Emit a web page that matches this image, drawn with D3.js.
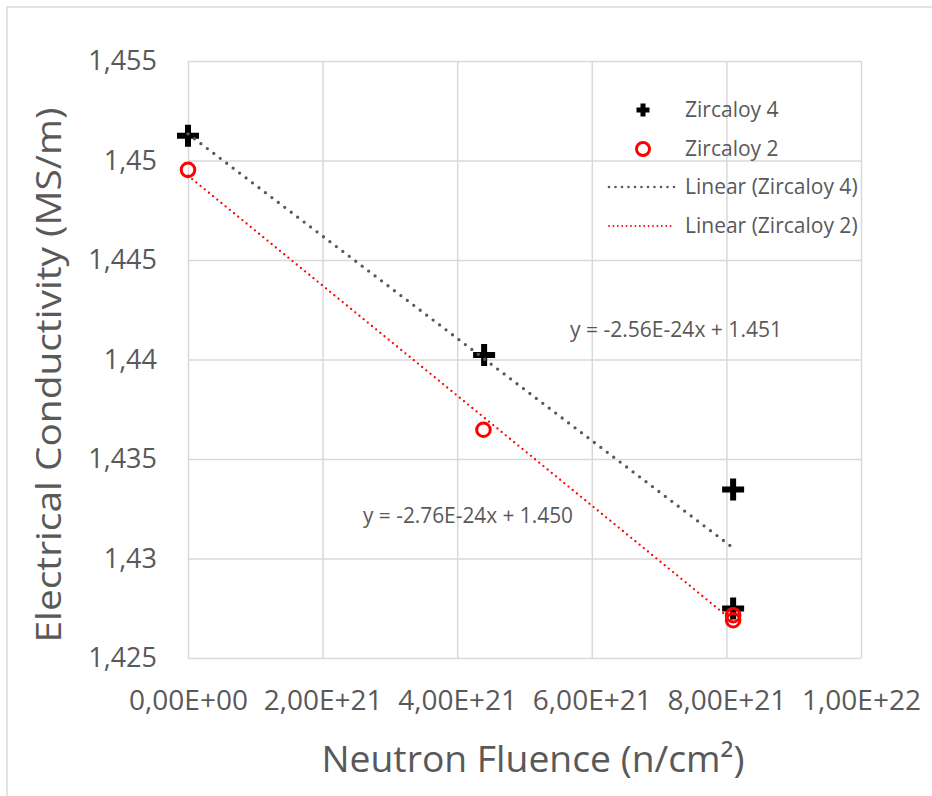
<!DOCTYPE html>
<html>
<head>
<meta charset="utf-8">
<script src="https://cdn.jsdelivr.net/npm/d3@7"></script>
<style>
  body { margin: 0; background: #fff; }
  text { font-family: "Open Sans", sans-serif; fill: #595959; }
</style>
</head>
<body>
<svg width="932" height="796"></svg>
<script>
// data
const zr4Fluence = [0, 4.40e21, 8.10e21, 8.10e21];
const zr4Cond = [1.45125, 1.44023, 1.43347, 1.42749];
const zr2Fluence = [0, 4.39e21, 8.10e21, 8.10e21];
const zr2Cond = [1.44953, 1.43647, 1.42715, 1.42690];

const xTicks = [0, 2e21, 4e21, 6e21, 8e21, 1e22];
const xTickLabels = ["0,00E+00", "2,00E+21", "4,00E+21", "6,00E+21", "8,00E+21", "1,00E+22"];
const yTicks = [1.425, 1.43, 1.435, 1.44, 1.445, 1.45, 1.455];
const yTickLabels = ["1,425", "1,43", "1,435", "1,44", "1,445", "1,45", "1,455"];

const seriesNames = ["Zircaloy 4", "Zircaloy 2", "Linear (Zircaloy 4)", "Linear (Zircaloy 2)"];
const eqZr4 = "y = -2.56E-24x + 1.451";
const eqZr2 = "y = -2.76E-24x + 1.450";

const svg = d3.select("svg");
const plotL = 188, plotR = 861, plotT = 61, plotB = 658;

const x = d3.scaleLinear().domain([0, 1e22]).range([plotL, plotR]);
const y = d3.scaleLinear().domain([1.425, 1.455]).range([plotB, plotT]);

// outer chart frame
svg.append("rect")
    .attr("x", 7).attr("y", 7)
    .attr("width", 940).attr("height", 800)
    .attr("fill", "none")
    .attr("stroke", "#d9d9d9")
    .attr("stroke-width", 1.5);

// gridlines + tick labels
const xAxis = svg.append("g")
    .attr("transform", `translate(0,${plotB})`)
    .call(d3.axisBottom(x).tickValues(xTicks)
        .tickFormat((d, i) => xTickLabels[i])
        .tickSize(-(plotB - plotT)).tickPadding(32));
const yAxis = svg.append("g")
    .attr("transform", `translate(${plotL},0)`)
    .call(d3.axisLeft(y).tickValues(yTicks)
        .tickFormat((d, i) => yTickLabels[i])
        .tickSize(-(plotR - plotL)).tickPadding(31));

[xAxis, yAxis].forEach(g => {
    g.select(".domain").remove();
    g.selectAll("line").attr("stroke", "#d9d9d9").attr("stroke-width", 1.5);
    g.selectAll("text").attr("fill", "#595959").attr("font-family", "Open Sans");
});
xAxis.selectAll("text").attr("font-size", 28);
yAxis.selectAll("text").attr("font-size", 27);

// axis titles
svg.append("text")
    .attr("transform", "translate(61,375) rotate(-90)")
    .attr("text-anchor", "middle")
    .attr("font-size", 35)
    .attr("textLength", 535)
    .attr("lengthAdjust", "spacingAndGlyphs")
    .text("Electrical Conductivity (MS/m)");

svg.append("text")
    .attr("x", 533).attr("y", 772)
    .attr("text-anchor", "middle")
    .attr("font-size", 37)
    .attr("textLength", 423)
    .attr("lengthAdjust", "spacingAndGlyphs")
    .text("Neutron Fluence (n/cm²)");

// markers
function crossPath(w, t) {
    const a = w / 2, b = t / 2;
    return `M${-a},${-b}H${-b}V${-a}H${b}V${-b}H${a}V${b}H${b}V${a}H${-b}V${b}H${-a}Z`;
}

const zr4 = zr4Fluence.map((f, i) => ({ f, c: zr4Cond[i] }));
const zr2 = zr2Fluence.map((f, i) => ({ f, c: zr2Cond[i] }));

svg.append("g").selectAll("path")
    .data(zr4)
    .join("path")
    .attr("transform", d => `translate(${x(d.f)},${y(d.c)})`)
    .attr("d", crossPath(22, 6))
    .attr("fill", "#000");

svg.append("g").selectAll("circle")
    .data(zr2)
    .join("circle")
    .attr("cx", d => x(d.f))
    .attr("cy", d => y(d.c))
    .attr("r", 6.8)
    .attr("fill", "none")
    .attr("stroke", "#ff0000")
    .attr("stroke-width", 3);

// least squares trendlines
function fit(xs, ys) {
    const mx = d3.mean(xs), my = d3.mean(ys);
    let sxy = 0, sxx = 0;
    xs.forEach((v, i) => { sxy += (v - mx) * (ys[i] - my); sxx += (v - mx) * (v - mx); });
    const m = sxy / sxx;
    return { m, b: my - m * mx, x0: d3.min(xs), x1: d3.max(xs) };
}

const trends = [
    { fit: fit(zr4Fluence, zr4Cond), color: "#595959", width: 3.3, dash: "0 8.1" },
    { fit: fit(zr2Fluence, zr2Cond), color: "#ff0000", width: 2.3, dash: "0 5.4" }
];

svg.append("g").selectAll("line")
    .data(trends)
    .join("line")
    .attr("x1", d => x(d.fit.x0))
    .attr("y1", d => y(d.fit.m * d.fit.x0 + d.fit.b))
    .attr("x2", d => x(d.fit.x1))
    .attr("y2", d => y(d.fit.m * d.fit.x1 + d.fit.b))
    .attr("stroke", d => d.color)
    .attr("stroke-width", d => d.width)
    .attr("stroke-dasharray", d => d.dash)
    .attr("stroke-linecap", "round");

// equations
svg.append("text").attr("x", 570).attr("y", 337)
    .attr("font-size", 21).attr("textLength", 212)
    .attr("lengthAdjust", "spacingAndGlyphs").text(eqZr4);
svg.append("text").attr("x", 363).attr("y", 523)
    .attr("font-size", 21).attr("textLength", 210)
    .attr("lengthAdjust", "spacingAndGlyphs").text(eqZr2);

// legend
const legend = svg.append("g");
const rowY = [110, 149, 187, 226];
legend.append("path")
    .attr("transform", `translate(643,${rowY[0]})`)
    .attr("d", crossPath(13, 5))
    .attr("fill", "#000");
legend.append("circle")
    .attr("cx", 643).attr("cy", rowY[1]).attr("r", 6.5)
    .attr("fill", "none").attr("stroke", "#ff0000").attr("stroke-width", 3);
trends.forEach((t, i) => {
    legend.append("line")
        .attr("x1", 609).attr("x2", 675)
        .attr("y1", rowY[i + 2]).attr("y2", rowY[i + 2])
        .attr("stroke", t.color)
        .attr("stroke-width", t.width * 0.8)
        .attr("stroke-dasharray", i === 0 ? "0 6.5" : "0 4.4")
        .attr("stroke-linecap", "round");
});
legend.selectAll("text")
    .data(seriesNames)
    .join("text")
    .attr("x", 685)
    .attr("y", (d, i) => rowY[i] + 7)
    .attr("font-size", 21)
    .text(d => d);
</script>
</body>
</html>
